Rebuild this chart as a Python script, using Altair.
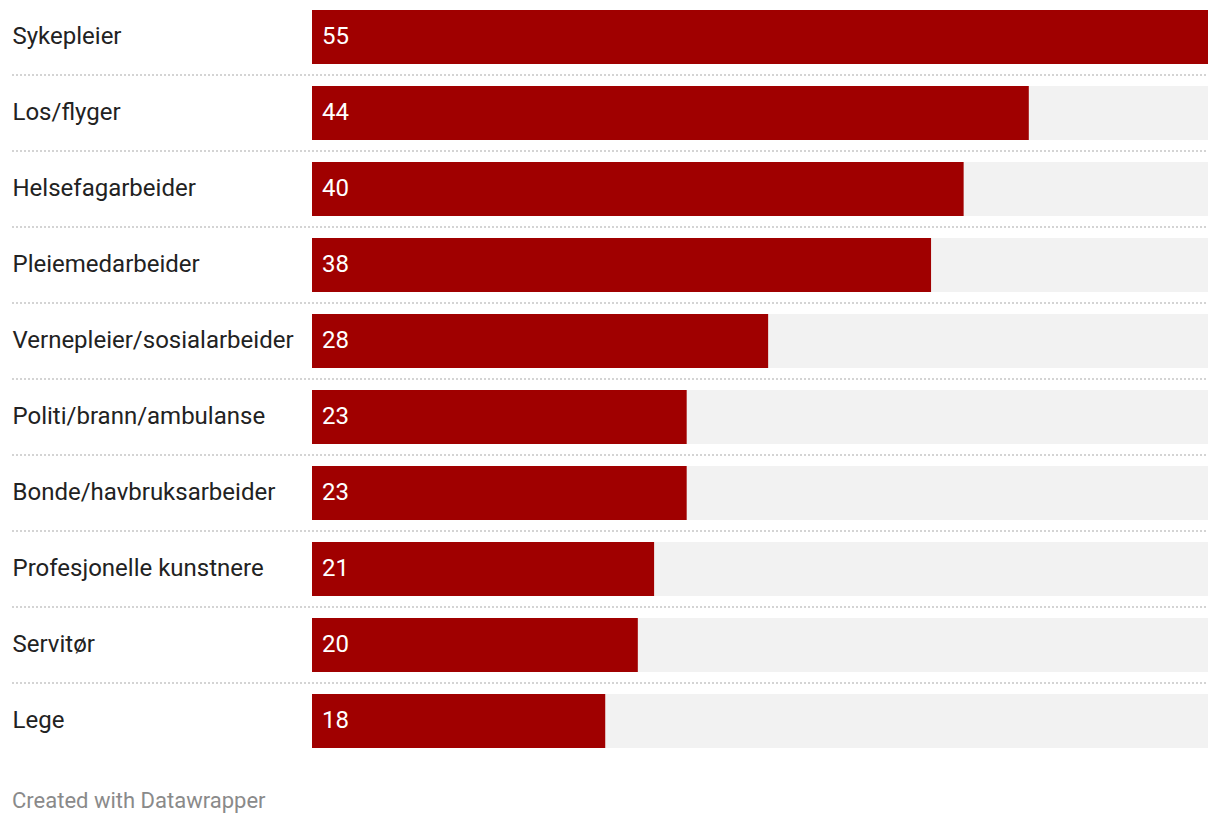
import altair as alt
import pandas as pd

categories = ["Sykepleier", "Los/flyger", "Helsefagarbeider", "Pleiemedarbeider",
              "Vernepleier/sosialarbeider", "Politi/brann/ambulanse",
              "Bonde/havbruksarbeider", "Profesjonelle kunstnere", "Servitør", "Lege"]
values = [55, 44, 40, 38, 28, 23, 23, 21, 20, 18]
footer = ["Created with Datawrapper"]

df = pd.DataFrame({"cat": categories, "value": values})
sep_df = pd.DataFrame({"cat": categories[:-1]})
foot_df = pd.DataFrame({"t": footer})

FONT = "Roboto"
W, H = 896, 742
step = 76
p_inner = 22 / step
p_outer = 2 / step

yscale = alt.Scale(domain=categories, paddingInner=p_inner, paddingOuter=p_outer)
xscale = alt.Scale(domain=[0, 55], nice=False, zero=True)

y_axis = alt.Axis(title=None, ticks=False, domain=False, labelAlign="left",
                  labelPadding=300, labelFont=FONT, labelFontSize=24,
                  labelColor="#222222", labelLimit=0)

base = alt.Chart(df)

bg = base.mark_bar(color="#f2f2f2").transform_joinaggregate(
    mx="max(value)"
).encode(
    y=alt.Y("cat:N", scale=yscale, axis=y_axis, sort=categories),
    x=alt.X("mx:Q", scale=xscale, axis=None),
)

bars = base.mark_bar(color="#a00000").encode(
    y=alt.Y("cat:N", scale=yscale, sort=categories),
    x=alt.X("value:Q", scale=xscale, axis=None),
)

labels = base.mark_text(align="left", baseline="middle", dx=10, font=FONT,
                        fontSize=24, color="white").encode(
    y=alt.Y("cat:N", scale=yscale, sort=categories),
    x=alt.value(0),
    text=alt.Text("value:Q"),
)

seps = alt.Chart(sep_df).mark_rule(color="#d4d4d4", strokeWidth=2,
                                   strokeDash=[2, 2], yOffset=11).encode(
    y=alt.Y("cat:N", scale=yscale, sort=categories, bandPosition=1),
    x=alt.value(-300),
    x2=alt.value(W),
)

foot = alt.Chart(foot_df).mark_text(align="left", baseline="middle", font=FONT,
                                    fontSize=22, color="#8a8a8a").encode(
    x=alt.value(-300),
    y=alt.value(H + 51),
    text="t:N",
)

chart = alt.layer(bg, seps, bars, labels, foot).properties(
    width=W, height=H,
    autosize="none",
    padding={"left": 304, "top": 0, "right": 4, "bottom": 80},
).configure_view(stroke=None).configure_axis(grid=False)

chart.save("out.html", embed_options={"renderer": "svg", "actions": False})
